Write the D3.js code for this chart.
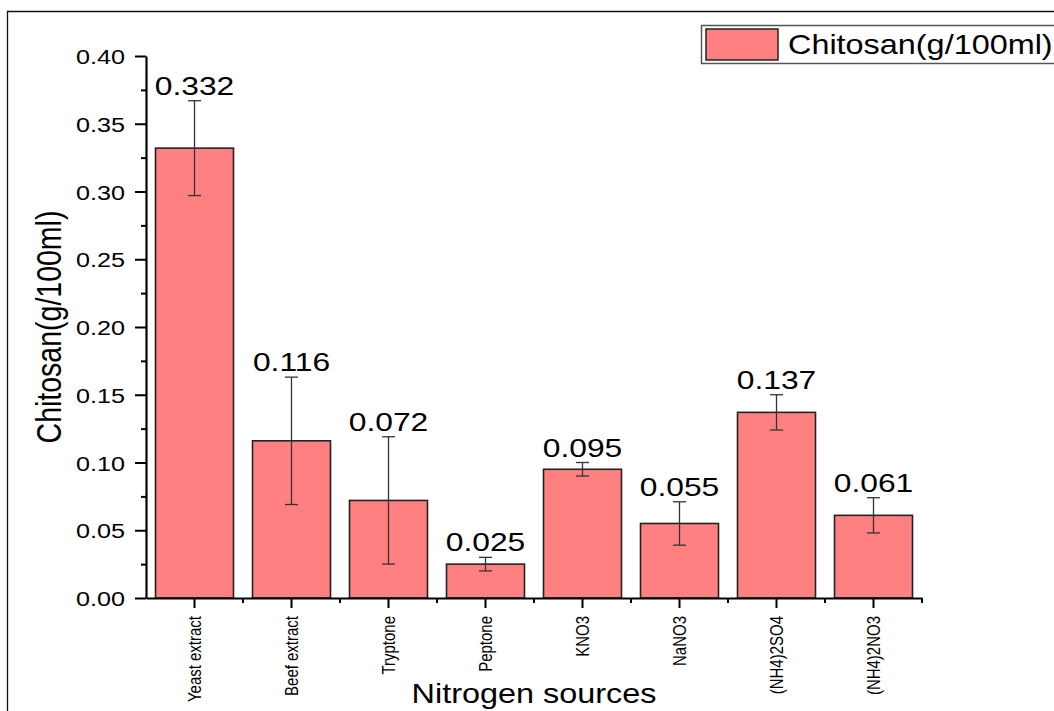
<!DOCTYPE html>
<html>
<head>
<meta charset="utf-8">
<script src="https://cdn.jsdelivr.net/npm/d3@7"></script>
<style>
  body { margin: 0; background: #fff; }
  svg text { font-family: "Liberation Sans", Arial, sans-serif; fill: #000; }
</style>
</head>
<body>
<script>
// data
var categories = [ "Yeast extract", "Beef extract", "Tryptone", "Peptone", "KNO3", "NaNO3", "(NH4)2SO4", "(NH4)2NO3" ];
var values = [ 0.332, 0.116, 0.072, 0.025, 0.095, 0.055, 0.137, 0.061 ];
var errors = [ 0.035, 0.047, 0.047, 0.005, 0.005, 0.016, 0.013, 0.013 ];
var labels = [ "0.332", "0.116", "0.072", "0.025", "0.095", "0.055", "0.137", "0.061" ];
var yTicks = [ 0, 0.05, 0.10, 0.15, 0.20, 0.25, 0.30, 0.35, 0.40 ];
var yMinor = [ 0.025, 0.075, 0.125, 0.175, 0.225, 0.275, 0.325, 0.375 ];

var W = 1054, H = 711;
var SX = 1.2; // the original export is stretched sideways

var svg = d3.select( "body" ).append( "svg" )
  .attr( "width", W )
  .attr( "height", H );

// outer frame (runs off the right and bottom edges)
svg.append( "path" )
  .attr( "d", "M7.5," + H + "V11.5H" + W )
  .attr( "fill", "none" )
  .attr( "stroke", "#111" )
  .attr( "stroke-width", 1.3 );

var x = d3.scaleBand()
  .domain( categories )
  .range( [ 146, 922 ] )
  .paddingInner( 0.196 )
  .paddingOuter( 0.098 );

var y = d3.scaleLinear()
  .domain( [ 0, 0.40 ] )
  .range( [ 598, 56 ] );

var rows = categories.map( function( c, i ){
  return { name: c, v: values[ i ], e: errors[ i ], lab: labels[ i ] };
} );

function stretch( sel, px, py, rot ){
  sel.attr( "transform", function( d, i ){
    var tx = typeof px === "function" ? px( d, i ) : px;
    var ty = typeof py === "function" ? py( d, i ) : py;
    return "translate(" + tx + "," + ty + ") scale(" + SX + ",1)" + ( rot ? " rotate(" + rot + ")" : "" );
  } );
}

// bars
svg.append( "g" ).selectAll( "rect" )
  .data( rows )
  .join( "rect" )
  .attr( "x", function( d ){ return x( d.name ); } )
  .attr( "y", function( d ){ return y( d.v ); } )
  .attr( "width", x.bandwidth() )
  .attr( "height", function( d ){ return y( 0 ) - y( d.v ); } )
  .attr( "fill", "#ff8080" )
  .attr( "stroke", "#222" )
  .attr( "stroke-width", 1.6 );

// error bars
var cx = function( d ){ return x( d.name ) + x.bandwidth() / 2; };
var eb = svg.append( "g" )
  .attr( "stroke", "#333" )
  .attr( "stroke-width", 1.3 )
  .selectAll( "g" )
  .data( rows )
  .join( "g" );
eb.append( "line" )
  .attr( "x1", cx ).attr( "x2", cx )
  .attr( "y1", function( d ){ return y( d.v + d.e ); } )
  .attr( "y2", function( d ){ return y( d.v - d.e ); } );
eb.append( "line" )
  .attr( "x1", function( d ){ return cx( d ) - 6.5; } )
  .attr( "x2", function( d ){ return cx( d ) + 6.5; } )
  .attr( "y1", function( d ){ return y( d.v + d.e ); } )
  .attr( "y2", function( d ){ return y( d.v + d.e ); } );
eb.append( "line" )
  .attr( "x1", function( d ){ return cx( d ) - 6.5; } )
  .attr( "x2", function( d ){ return cx( d ) + 6.5; } )
  .attr( "y1", function( d ){ return y( d.v - d.e ); } )
  .attr( "y2", function( d ){ return y( d.v - d.e ); } );

// value labels
svg.append( "g" ).selectAll( "text" )
  .data( rows )
  .join( "text" )
  .attr( "text-anchor", "middle" )
  .style( "font-size", "26.5px" )
  .text( function( d ){ return d.lab; } )
  .call( stretch, cx, function( d ){ return y( d.v + d.e ) - 6; } );

// y axis
var yAxis = svg.append( "g" )
  .attr( "transform", "translate(146,0)" )
  .call( d3.axisLeft( y ).tickValues( yTicks ).tickFormat( d3.format( ".2f" ) ).tickSize( 11 ).tickSizeOuter( 0 ) );
yAxis.select( ".domain" ).attr( "stroke", "#000" ).attr( "stroke-width", 2.2 );
yAxis.selectAll( ".tick line" ).attr( "stroke", "#000" ).attr( "stroke-width", 2 );
yAxis.selectAll( ".tick text" )
  .attr( "x", null )
  .attr( "dy", "0.36em" )
  .style( "font-size", "21px" )
  .call( stretch, -21, 0 );

svg.append( "g" )
  .attr( "transform", "translate(146,0)" )
  .call( d3.axisLeft( y ).tickValues( yMinor ).tickFormat( "" ).tickSize( 5 ) )
  .call( function( g ){ g.select( ".domain" ).remove(); } )
  .selectAll( ".tick line" ).attr( "stroke", "#000" ).attr( "stroke-width", 2 );

// x axis
var xAxis = svg.append( "g" )
  .attr( "transform", "translate(0,598)" )
  .call( d3.axisBottom( x ).tickSize( 10 ).tickSizeOuter( 0 ) );
xAxis.select( ".domain" ).attr( "stroke", "#000" ).attr( "stroke-width", 2.2 );
xAxis.selectAll( ".tick line" ).attr( "stroke", "#000" ).attr( "stroke-width", 2 );
xAxis.selectAll( ".tick text" )
  .attr( "y", null )
  .attr( "dy", null )
  .attr( "text-anchor", "end" )
  .style( "font-size", "15px" )
  .call( stretch, 6, 18, -90 );

var bounds = d3.range( categories.length + 1 ).map( function( i ){ return x.range()[ 0 ] + i * x.step(); } );
svg.append( "g" ).selectAll( "line" )
  .data( bounds.slice( 1 ) )
  .join( "line" )
  .attr( "x1", function( d ){ return d; } )
  .attr( "x2", function( d ){ return d; } )
  .attr( "y1", y( 0 ) )
  .attr( "y2", y( 0 ) + 5 )
  .attr( "stroke", "#000" )
  .attr( "stroke-width", 2 );

// axis titles
svg.append( "text" )
  .attr( "text-anchor", "middle" )
  .style( "font-size", "28.5px" )
  .text( "Chitosan(g/100ml)" )
  .call( stretch, 61, ( y.range()[ 0 ] + y.range()[ 1 ] ) / 2, -90 );

svg.append( "text" )
  .attr( "text-anchor", "middle" )
  .style( "font-size", "27px" )
  .text( "Nitrogen sources" )
  .call( stretch, ( x.range()[ 0 ] + x.range()[ 1 ] ) / 2, 703 );

// legend
var lg = svg.append( "g" );
lg.append( "rect" )
  .attr( "x", 701.5 ).attr( "y", 25.5 )
  .attr( "width", 380 ).attr( "height", 38 )
  .attr( "fill", "#fff" )
  .attr( "stroke", "#555" )
  .attr( "stroke-width", 1.5 );
lg.append( "rect" )
  .attr( "x", 706 ).attr( "y", 29 )
  .attr( "width", 72 ).attr( "height", 31 )
  .attr( "fill", "#ff8080" )
  .attr( "stroke", "#222" )
  .attr( "stroke-width", 1.5 );
lg.append( "text" )
  .style( "font-size", "27px" )
  .text( "Chitosan(g/100ml)" )
  .call( stretch, 788, 53.5 );
</script>
</body>
</html>
